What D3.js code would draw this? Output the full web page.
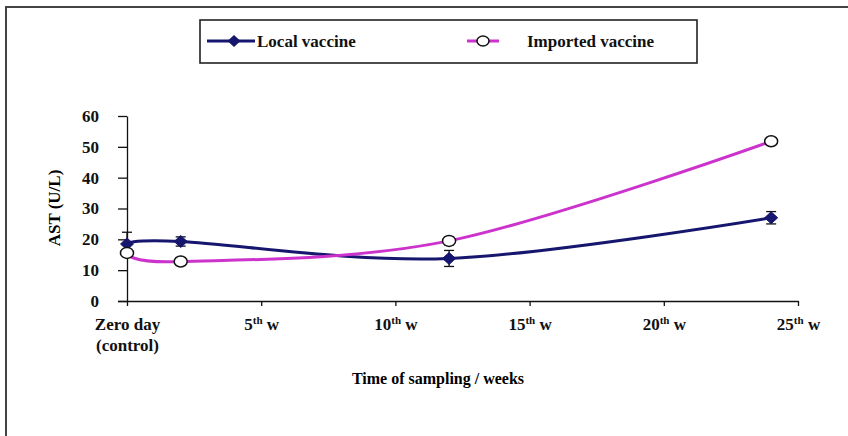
<!DOCTYPE html>
<html>
<head>
<meta charset="utf-8">
<script src="https://cdn.jsdelivr.net/npm/d3@7"></script>
<style>
  body { margin: 0; background: #fff; }
</style>
</head>
<body>
<svg id="chart" width="848" height="436"></svg>
<script>
// values
const weeks = [0, 2, 12, 24];
const localVals = [18.5, 19.3, 13.8, 27];
const localErr = [3.8, 1.5, 2.6, 2];
const importedVals = [15.6, 12.8, 19.5, 51.8];
const importedErr = [1, 1, 1.3, 1];
const xTicks = [0, 5, 10, 15, 20, 25];
const xTickLabels = [["Zero day", "(control)"], ["5", "th", " w"], ["10", "th", " w"], ["15", "th", " w"], ["20", "th", " w"], ["25", "th", " w"]];
const yTicks = [0, 10, 20, 30, 40, 50, 60];

const FONT = "'Liberation Serif', 'Times New Roman', 'DejaVu Serif', serif";
const svg = d3.select("#chart");
const navy = "#16166e", pink = "#cc33cc";

// outer frame
svg.append("rect").attr("x", 6).attr("y", 7).attr("width", 860).attr("height", 460)
  .attr("fill", "none").attr("stroke", "#444").attr("stroke-width", 2);

const x = d3.scaleLinear().domain([0, 25]).range([127, 798]);
const y = d3.scaleLinear().domain([0, 60]).range([301, 116]);

// y axis
const yAxis = svg.append("g").attr("transform", "translate(127,0)")
  .call(d3.axisLeft(y).tickValues(yTicks).tickSize(9).tickSizeOuter(0));
yAxis.select(".domain").attr("stroke", "#111").attr("stroke-width", 1.3);
yAxis.selectAll(".tick line").attr("stroke", "#111").attr("stroke-width", 1.3);
yAxis.selectAll(".tick text").attr("x", -28).attr("fill", "#111");

// x axis
const xAxis = svg.append("g").attr("transform", "translate(0,301)")
  .call(d3.axisBottom(x).tickValues(xTicks).tickSize(5).tickSizeOuter(0).tickFormat(""));
xAxis.select(".domain").attr("d", "M118,0.5H798.5").attr("stroke", "#111").attr("stroke-width", 1.3);
xAxis.selectAll(".tick line").attr("stroke", "#111").attr("stroke-width", 1.3);
xAxis.selectAll(".tick text").each(function(d, i) {
  const t = d3.select(this).attr("y", 0).attr("dy", null).attr("fill", "#111");
  const lab = xTickLabels[i];
  if (i === 0) {
    t.append("tspan").attr("x", 0).attr("y", 29).text(lab[0]);
    t.append("tspan").attr("x", 0).attr("y", 50).text(lab[1]);
  } else {
    t.attr("y", 29);
    t.append("tspan").text(lab[0]);
    t.append("tspan").attr("dy", -6).attr("font-size", 11).text(lab[1]);
    t.append("tspan").attr("dy", 6).text(lab[2]);
  }
});
[yAxis, xAxis].forEach(g => g.attr("font-family", FONT).attr("font-size", 17).attr("font-weight", "bold"));

// axis titles
svg.append("text").attr("transform", "translate(60,208) rotate(-90)").attr("text-anchor", "middle")
  .attr("font-family", FONT).attr("font-weight", "bold").attr("font-size", 17).text("AST (U/L)");
svg.append("text").attr("x", 438).attr("y", 384).attr("text-anchor", "middle")
  .attr("font-family", FONT).attr("font-weight", "bold").attr("font-size", 16).text("Time of sampling / weeks");

const line = d3.line().x(d => x(d[0])).y(d => y(d[1])).curve(d3.curveCatmullRom.alpha(0));
const diamond = "M0,-6L6.5,0L0,6L-6.5,0Z";

function series(vals, errs, color) {
  const pts = weeks.map((w, i) => [w, vals[i], errs[i]]);
  svg.append("path").datum(pts).attr("d", line).attr("fill", "none")
    .attr("stroke", color).attr("stroke-width", 3);
  const eb = svg.append("g").attr("stroke", "#111").attr("stroke-width", 1.3);
  pts.forEach(p => {
    eb.append("line").attr("x1", x(p[0])).attr("x2", x(p[0])).attr("y1", y(p[1] - p[2])).attr("y2", y(p[1] + p[2]));
    [p[1] - p[2], p[1] + p[2]].forEach(v => eb.append("line")
      .attr("x1", x(p[0]) - 5).attr("x2", x(p[0]) + 5).attr("y1", y(v)).attr("y2", y(v)));
  });
  return pts;
}

const localPts = series(localVals, localErr, navy);
svg.append("g").selectAll("path").data(localPts).join("path")
  .attr("d", diamond)
  .attr("transform", d => `translate(${x(d[0])},${y(d[1])})`)
  .attr("fill", navy).attr("stroke", navy);

const impPts = series(importedVals, importedErr, pink);
svg.append("g").selectAll("ellipse").data(impPts).join("ellipse")
  .attr("cx", d => x(d[0])).attr("cy", d => y(d[1])).attr("rx", 6.5).attr("ry", 5.5)
  .attr("fill", "#fff").attr("stroke", "#111").attr("stroke-width", 1.5);

// legend
const lg = svg.append("g").attr("font-family", FONT).attr("font-weight", "bold").attr("font-size", 17);
lg.append("rect").attr("x", 200).attr("y", 20).attr("width", 497).attr("height", 43)
  .attr("fill", "#fff").attr("stroke", "#222").attr("stroke-width", 1.6);
lg.append("line").attr("x1", 207).attr("x2", 255).attr("y1", 41).attr("y2", 41).attr("stroke", navy).attr("stroke-width", 3);
lg.append("path").attr("d", diamond).attr("transform", "translate(234,41)").attr("fill", navy);
lg.append("text").attr("x", 257).attr("y", 47).attr("fill", "#111").text("Local vaccine");
lg.append("line").attr("x1", 467).attr("x2", 499).attr("y1", 41).attr("y2", 41).attr("stroke", pink).attr("stroke-width", 3);
lg.append("ellipse").attr("cx", 483).attr("cy", 41).attr("rx", 6).attr("ry", 5)
  .attr("fill", "#fff").attr("stroke", "#111").attr("stroke-width", 1.5);
lg.append("text").attr("x", 527).attr("y", 47).attr("fill", "#111").text("Imported vaccine");
</script>
</body>
</html>
